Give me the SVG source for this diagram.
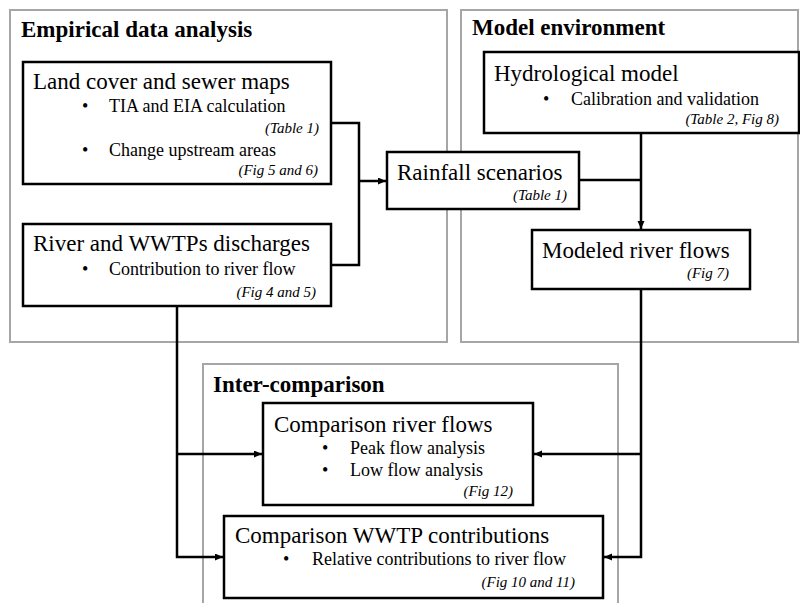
<svg xmlns="http://www.w3.org/2000/svg" width="800" height="603" viewBox="0 0 800 603" font-family="'Times New Roman', 'Liberation Serif', Times, serif">
<style>
text{font-family:'Times New Roman','Liberation Serif',Times,serif;fill:#000}
.panel{fill:#fff;stroke:#a6a6a6;stroke-width:2}
.box{fill:#fff;stroke:#000;stroke-width:2.5}
.pt{font-size:23px;font-weight:bold}
.h{font-size:23px}
.b{font-size:18px}
.ref{font-size:15px;font-style:italic;text-anchor:end}
.con{fill:none;stroke:#000;stroke-width:2.5}
</style>
<defs>
<marker id="arr" markerUnits="userSpaceOnUse" markerWidth="9" markerHeight="8" refX="8" refY="3.5" orient="auto">
<path d="M0,0 L8,3.5 L0,7 z" fill="#000"/>
</marker>
</defs>
<g id="panel-empirical">
<rect class="panel" x="10" y="10" width="437" height="332"/>
<text class="pt" x="21" y="37">Empirical data analysis</text>
</g>
<g id="panel-model">
<rect class="panel" x="461" y="10" width="337" height="332"/>
<text class="pt" x="472" y="35">Model environment</text>
</g>
<g id="panel-inter">
<rect class="panel" x="203" y="364" width="415" height="260"/>
<text class="pt" x="213" y="392">Inter-comparison</text>
</g>
<g id="connectors">
<path class="con" d="M331,123 H359 V265 H331"/>
<path class="con" d="M359,181 H386" marker-end="url(#arr)"/>
<path class="con" d="M579,180 H641"/>
<path class="con" d="M641,133 V229" marker-end="url(#arr)"/>
<path class="con" d="M641,289 V557 H604" marker-end="url(#arr)"/>
<path class="con" d="M641,454 H534" marker-end="url(#arr)"/>
<path class="con" d="M177,306 V557 H223" marker-end="url(#arr)"/>
<path class="con" d="M177,454 H262" marker-end="url(#arr)"/>
</g>
<g id="node-landcover">
<rect class="box" x="23" y="62" width="308" height="122"/>
<text class="h" x="33" y="89">Land cover and sewer maps</text>
<text class="b" x="82" y="112">•</text>
<text class="b" x="109" y="112">TIA and EIA calculation</text>
<text class="ref" x="319" y="133">(Table 1)</text>
<text class="b" x="82" y="156">•</text>
<text class="b" x="109" y="156">Change upstream areas</text>
<text class="ref" x="318" y="175">(Fig 5 and 6)</text>
</g>
<g id="node-river">
<rect class="box" x="23" y="224" width="308" height="82"/>
<text class="h" x="33" y="251">River and WWTPs discharges</text>
<text class="b" x="82" y="275">•</text>
<text class="b" x="109" y="275">Contribution to river flow</text>
<text class="ref" x="316" y="297">(Fig 4 and 5)</text>
</g>
<g id="node-rainfall">
<rect class="box" x="387" y="152" width="192" height="57"/>
<text class="h" x="397" y="180">Rainfall scenarios</text>
<text class="ref" x="567" y="200">(Table 1)</text>
</g>
<g id="node-hydro">
<rect class="box" x="484" y="52" width="315" height="81"/>
<text class="h" x="494" y="81">Hydrological model</text>
<text class="b" x="543" y="105">•</text>
<text class="b" x="571" y="105">Calibration and validation</text>
<text class="ref" x="779" y="124">(Table 2, Fig 8)</text>
</g>
<g id="node-modeled">
<rect class="box" x="532" y="230" width="218" height="59"/>
<text class="h" x="542" y="258">Modeled river flows</text>
<text class="ref" x="729" y="278">(Fig 7)</text>
</g>
<g id="node-comp-river">
<rect class="box" x="263" y="403" width="270" height="102"/>
<text class="h" x="274" y="432">Comparison river flows</text>
<text class="b" x="322" y="454">•</text>
<text class="b" x="350" y="454">Peak flow analysis</text>
<text class="b" x="322" y="476">•</text>
<text class="b" x="350" y="476">Low flow analysis</text>
<text class="ref" x="513" y="496">(Fig 12)</text>
</g>
<g id="node-comp-wwtp">
<rect class="box" x="224" y="516" width="379" height="82"/>
<text class="h" x="235" y="543">Comparison WWTP contributions</text>
<text class="b" x="283" y="565">•</text>
<text class="b" x="312" y="565">Relative contributions to river flow</text>
<text class="ref" x="575" y="587">(Fig 10 and 11)</text>
</g>
</svg>
